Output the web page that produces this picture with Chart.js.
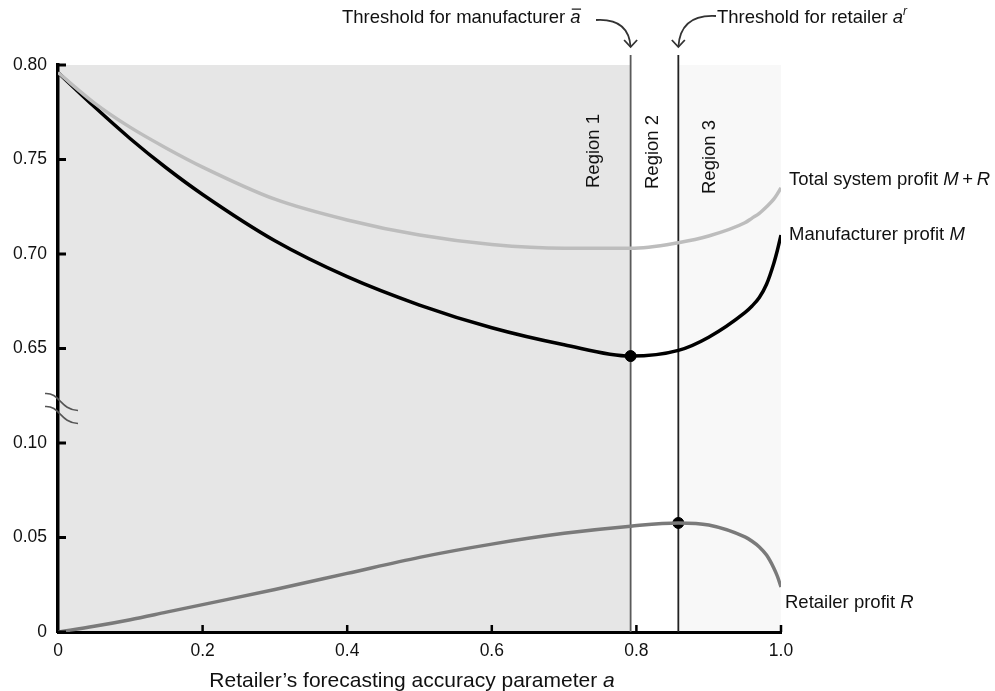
<!DOCTYPE html>
<html>
<head>
<meta charset="UTF-8">
<title>Profit vs forecasting accuracy</title>
<style>
  body { margin: 0; background: #fff; }
</style>
</head>
<body>
<canvas id="chart" width="995" height="691"></canvas>

<script src="https://cdn.jsdelivr.net/npm/chart.js"></script>
<script>
// data
const accuracy = [0, 0.05, 0.1, 0.15, 0.2, 0.3, 0.4, 0.5, 0.6, 0.7, 0.792, 0.858, 0.9, 0.95, 0.96, 0.97, 0.98, 0.99, 0.995, 1.0];
const totalProfit = [0.796, 0.780, 0.767, 0.756, 0.746, 0.729, 0.718, 0.710, 0.705, 0.703, 0.703, 0.706, 0.7095, 0.7165, 0.719, 0.7215, 0.725, 0.729, 0.7318, 0.735];
const manufacturerProfit = [0.796, 0.778, 0.761, 0.7455, 0.7315, 0.707, 0.688, 0.673, 0.661, 0.652, 0.646, 0.649, 0.656, 0.669, 0.6725, 0.677, 0.684, 0.695, 0.702, 0.710];
const retailerProfit = [0, 0.003, 0.0065, 0.0105, 0.0145, 0.0225, 0.031, 0.0395, 0.0465, 0.0522, 0.056, 0.0577, 0.0566, 0.0503, 0.048, 0.045, 0.0407, 0.0339, 0.0295, 0.0238];

const manufacturerThreshold = 0.792;
const retailerThreshold = 0.858;
const manufacturerDot = [0.792, 0.646];
const retailerDot = [0.858, 0.0577];

const xTickLabels = ['0', '0.2', '0.4', '0.6', '0.8', '1.0'];
const yTickLabels = ['0', '0.05', '0.10', '0.65', '0.70', '0.75', '0.80'];
const regionLabels = ['Region 1', 'Region 2', 'Region 3'];

// broken y axis: values above the break are shifted down by 0.50
const BREAK_SHIFT = 0.50;
const toAxis = v => v >= 0.5 ? v - BREAK_SHIFT : v;
const pts = vals => accuracy.map((a, i) => ({ x: a, y: toAxis(vals[i]) }));

const FONT = "'Liberation Sans', Arial, Helvetica, sans-serif";

// draw text made of pieces: {t, it, sup, bar}
function richText(ctx, parts, x, y, size, align) {
  const fontOf = p => (p.it ? 'italic ' : '') + (p.sup ? Math.round(size * 0.65) : size) + 'px ' + FONT;
  let w = 0;
  parts.forEach(p => { ctx.font = fontOf(p); w += ctx.measureText(p.t).width; });
  let cx = align === 'center' ? x - w / 2 : x;
  ctx.textAlign = 'left';
  ctx.textBaseline = 'middle';
  parts.forEach(p => {
    ctx.font = fontOf(p);
    const pw = ctx.measureText(p.t).width;
    ctx.fillText(p.t, cx, p.sup ? y - size * 0.35 : y);
    if (p.bar) {
      ctx.beginPath();
      ctx.lineWidth = 1.2;
      ctx.moveTo(cx + 1.5, y - size * 0.48);
      ctx.lineTo(cx + pw + 0.5, y - size * 0.48);
      ctx.stroke();
    }
    cx += pw;
  });
}

function arrow(ctx, sx, sy, cpx, cpy, ex, ey) {
  ctx.beginPath();
  ctx.moveTo(sx, sy);
  ctx.quadraticCurveTo(cpx, cpy, ex, ey);
  ctx.stroke();
  ctx.beginPath();
  ctx.moveTo(ex - 6.5, ey - 7);
  ctx.lineTo(ex, ey);
  ctx.lineTo(ex + 6.5, ey - 7);
  ctx.stroke();
}

const decor = {
  id: 'decor',
  beforeDraw(chart) {
    const { ctx, chartArea: ca, scales: { x } } = chart;
    const x1 = x.getPixelForValue(manufacturerThreshold);
    const x2 = x.getPixelForValue(retailerThreshold);
    ctx.save();
    ctx.fillStyle = '#e6e6e6';
    ctx.fillRect(ca.left, ca.top, x1 - ca.left, ca.bottom - ca.top);
    ctx.fillStyle = '#f8f8f8';
    ctx.fillRect(x2, ca.top, ca.right - x2, ca.bottom - ca.top);
    ctx.restore();
  },
  beforeDatasetsDraw(chart) {
    const { ctx, chartArea: ca, scales: { x } } = chart;
    const x1 = x.getPixelForValue(manufacturerThreshold);
    const x2 = x.getPixelForValue(retailerThreshold);
    ctx.save();
    ctx.lineWidth = 1.8;
    ctx.strokeStyle = '#5a5a5a';
    ctx.beginPath(); ctx.moveTo(x1, 55); ctx.lineTo(x1, ca.bottom); ctx.stroke();
    ctx.strokeStyle = '#222';
    ctx.beginPath(); ctx.moveTo(x2, 55); ctx.lineTo(x2, ca.bottom); ctx.stroke();

    // region labels, rotated
    ctx.fillStyle = '#111';
    ctx.font = '18.5px ' + FONT;
    ctx.textAlign = 'left';
    ctx.textBaseline = 'middle';
    const centers = [x1 - 37, (x1 + x2) / 2 - 2, x2 + 32];
    const bottoms = [188, 189, 194];
    regionLabels.forEach((t, i) => {
      ctx.save();
      ctx.translate(centers[i], bottoms[i]);
      ctx.rotate(-Math.PI / 2);
      ctx.fillText(t, 0, 0);
      ctx.restore();
    });
    ctx.restore();
  },
  afterDraw(chart) {
    const { ctx, chartArea: ca, scales: { x, y } } = chart;
    ctx.save();
    ctx.strokeStyle = '#000';
    ctx.fillStyle = '#000';

    // inside tick marks
    ctx.lineWidth = 3;
    y.ticks.forEach(t => {
      const py = y.getPixelForValue(t.value);
      ctx.beginPath(); ctx.moveTo(ca.left, py); ctx.lineTo(ca.left + 8, py); ctx.stroke();
    });
    ctx.lineWidth = 2.5;
    x.ticks.forEach(t => {
      if (t.value === 0) return;
      const px = x.getPixelForValue(t.value);
      ctx.beginPath(); ctx.moveTo(px, ca.bottom); ctx.lineTo(px, ca.bottom - 7); ctx.stroke();
    });

    // axis break mark
    const by = y.getPixelForValue(0.1185);
    ctx.strokeStyle = '#555';
    ctx.lineWidth = 1.6;
    [-6.5, 6.5].forEach(off => {
      const yy = by + off;
      ctx.beginPath();
      ctx.moveTo(ca.left - 13, yy - 8);
      ctx.bezierCurveTo(ca.left + 2, yy - 9, ca.left + 2, yy + 8, ca.left + 20, yy + 9);
      ctx.stroke();
    });

    // curve labels on the right
    ctx.fillStyle = '#111';
    ctx.strokeStyle = '#111';
    richText(ctx, [{ t: 'Total system profit ' }, { t: 'M', it: true }, { t: '\u2009+\u2009' }, { t: 'R', it: true }], 789, 180, 18.5, 'left');
    richText(ctx, [{ t: 'Manufacturer profit ' }, { t: 'M', it: true }], 789, 235, 18.5, 'left');
    richText(ctx, [{ t: 'Retailer profit ' }, { t: 'R', it: true }], 785, 603, 18.5, 'left');

    // threshold annotations
    richText(ctx, [{ t: 'Threshold for manufacturer ' }, { t: 'a', it: true, bar: true }], 342, 18, 18.5, 'left');
    richText(ctx, [{ t: 'Threshold for retailer ' }, { t: 'a', it: true }, { t: 'r', it: true, sup: true }], 717, 18, 18.5, 'left');
    ctx.strokeStyle = '#333';
    ctx.lineWidth = 1.8;
    const x1 = x.getPixelForValue(manufacturerThreshold);
    const x2 = x.getPixelForValue(retailerThreshold);
    arrow(ctx, 596, 20, x1 - 2, 18, x1, 47);
    arrow(ctx, 716, 16, x2 + 2, 14, x2, 47);

    // x axis title
    ctx.fillStyle = '#111';
    richText(ctx, [{ t: 'Retailer\u2019s forecasting accuracy parameter ' }, { t: 'a', it: true }], 412, 681, 21, 'center');
    ctx.restore();
  }
};

const lineStyle = (color) => ({
  borderColor: color,
  borderWidth: 3.5,
  pointRadius: 0,
  cubicInterpolationMode: 'monotone'
});

const ctx = document.getElementById('chart').getContext('2d');
new Chart(ctx, {
  type: 'line',
  data: {
    datasets: [
      Object.assign({ label: 'Total system profit M+R', data: pts(totalProfit) }, lineStyle('#bdbdbd')),
      Object.assign({ label: 'Manufacturer profit M', data: pts(manufacturerProfit) }, lineStyle('#000')),
      Object.assign({ label: 'Retailer profit R', data: pts(retailerProfit) }, lineStyle('#7a7a7a')),
      {
        type: 'scatter',
        label: 'thresholds',
        data: [
          { x: manufacturerDot[0], y: toAxis(manufacturerDot[1]) },
          { x: retailerDot[0], y: toAxis(retailerDot[1]) }
        ],
        pointRadius: 5.5,
        pointBackgroundColor: '#000',
        pointBorderColor: '#000'
      }
    ]
  },
  options: {
    responsive: false,
    animation: false,
    layout: { padding: { top: 65, right: 214, left: 0, bottom: 0 } },
    plugins: {
      legend: { display: false },
      tooltip: { enabled: false }
    },
    scales: {
      x: {
        type: 'linear',
        min: 0,
        max: 1,
        afterFit: s => { s.height = 59; },
        grid: { display: false, drawTicks: false },
        border: { display: true, color: '#000', width: 3 },
        ticks: {
          stepSize: 0.2,
          padding: 9,
          color: '#111',
          font: { family: FONT, size: 17.5 },
          callback: (v, i) => xTickLabels[i]
        }
      },
      y: {
        min: 0,
        max: 0.30,
        afterFit: s => { s.width = 58; },
        grid: { display: false, drawTicks: false },
        border: { display: true, color: '#000', width: 3.5 },
        ticks: {
          stepSize: 0.05,
          padding: 11,
          color: '#111',
          font: { family: FONT, size: 17.5 },
          callback: (v, i) => yTickLabels[i]
        }
      }
    }
  },
  plugins: [decor]
});
</script>
</body>
</html>
